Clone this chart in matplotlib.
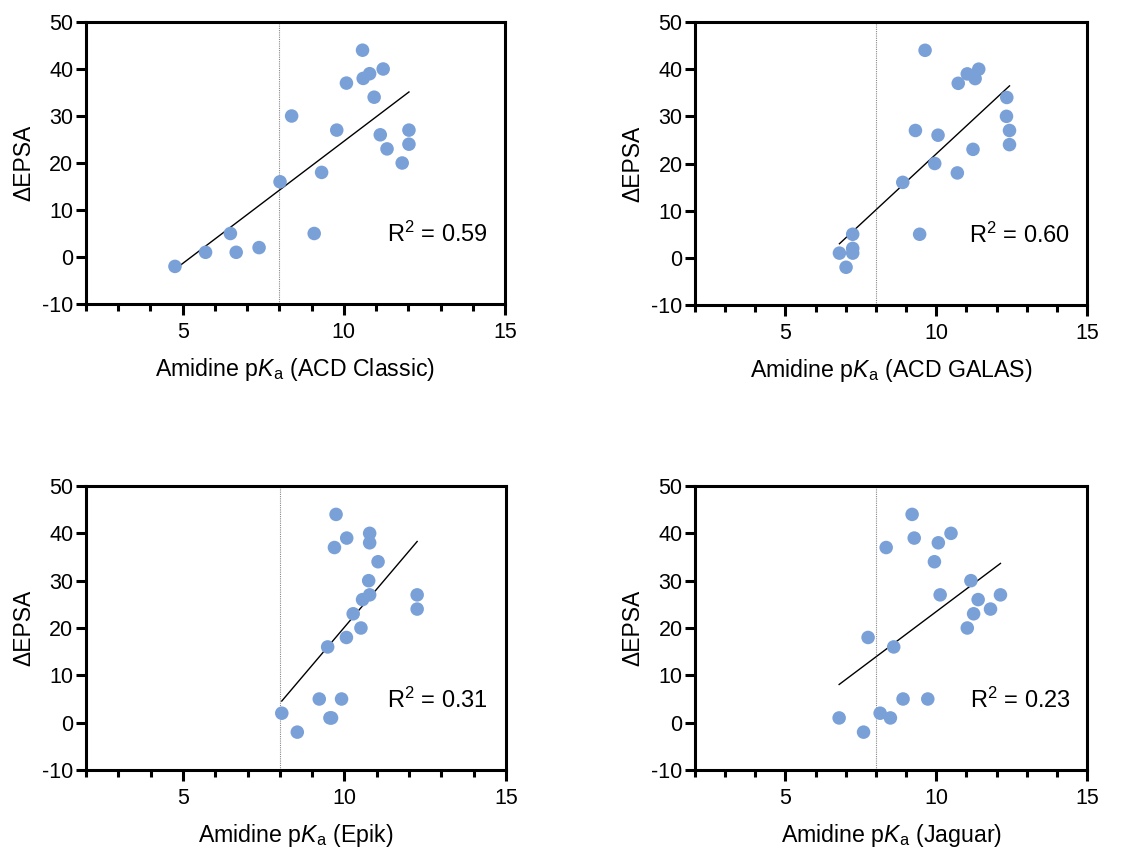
import matplotlib
matplotlib.use("Agg")
import matplotlib.pyplot as plt
import numpy as np
from matplotlib.ticker import MultipleLocator

plt.rcParams['font.family'] = ['Liberation Sans', 'DejaVu Sans']
plt.rcParams['mathtext.fontset'] = 'custom'
plt.rcParams['mathtext.rm'] = 'Liberation Sans'
plt.rcParams['mathtext.it'] = 'Liberation Sans:italic'
plt.rcParams['axes.unicode_minus'] = False

# ACD Classic
x_classic = [4.76, 5.71, 6.48, 6.66, 7.37, 8.02, 8.38, 9.08, 9.31, 9.78, 10.08,
             10.58, 10.60, 10.80, 10.94, 11.22, 11.13, 11.34, 11.81, 12.02, 12.02]
y_classic = [-2, 1, 5, 1, 2, 16, 30, 5, 18, 27, 37, 44, 38, 39, 34, 40, 26, 23, 20, 27, 24]

# ACD GALAS
x_galas = [6.79, 7.01, 7.23, 7.23, 7.23, 8.89, 9.31, 9.45, 9.63, 9.95, 10.06,
           10.70, 10.73, 11.03, 11.22, 11.29, 11.41, 12.34, 12.33, 12.43, 12.43]
y_galas = [1, -2, 5, 2, 1, 16, 27, 5, 44, 20, 26, 18, 37, 39, 23, 38, 40, 34, 30, 27, 24]

# Epik
x_epik = [8.06, 8.54, 9.22, 9.55, 9.60, 9.91, 9.48, 9.74, 9.69, 10.07, 10.06,
          10.27, 10.51, 10.56, 10.75, 10.78, 10.78, 10.78, 11.04, 12.25, 12.25]
y_epik = [2, -2, 5, 1, 1, 5, 16, 44, 37, 39, 18, 23, 20, 26, 30, 27, 40, 38, 34, 27, 24]

# Jaguar
x_jaguar = [6.78, 7.59, 7.74, 8.14, 8.34, 8.48, 8.59, 8.90, 9.20, 9.27, 9.72,
            9.94, 10.07, 10.13, 10.49, 11.03, 11.15, 11.24, 11.39, 11.80, 12.13]
y_jaguar = [1, -2, 18, 2, 37, 1, 16, 5, 44, 39, 5, 34, 38, 27, 40, 20, 30, 23, 26, 24, 27]

labels = ['ACD Classic', 'ACD GALAS', 'Epik', 'Jaguar']
r2_text = ['0.59', '0.60', '0.31', '0.23']
xs = [x_classic, x_galas, x_epik, x_jaguar]
ys = [y_classic, y_galas, y_epik, y_jaguar]

W, H = 1147, 850
fig = plt.figure(figsize=(W / 100, H / 100), dpi=100)

# axes boxes in pixels: left, top, right, bottom
boxes = [(86, 22, 505, 304), (695, 22, 1087, 305),
         (86, 486, 506, 770), (695, 486, 1087, 770)]

color = '#7aa0d8'

for i in range(4):
    l, t, r, b = boxes[i]
    ax = fig.add_axes([l / W, 1 - b / H, (r - l) / W, (b - t) / H])
    x = np.array(xs[i])
    y = np.array(ys[i])

    ax.axvline(8, color='#888888', lw=0.8, ls=(0, (1, 1)), zorder=1)
    ax.scatter(x, y, s=95, color=color, edgecolors='none', zorder=3)

    k, c = np.polyfit(x, y, 1)
    xl = np.array([x.min(), x.max()])
    ax.plot(xl, k * xl + c, color='black', lw=1.0, zorder=2)

    ax.set_xlim(2, 15)
    ax.set_ylim(-10, 50)
    ax.xaxis.set_major_locator(MultipleLocator(5))
    ax.xaxis.set_minor_locator(MultipleLocator(1))
    ax.yaxis.set_major_locator(MultipleLocator(10))
    for s in ax.spines.values():
        s.set_linewidth(2.2)
    ax.tick_params(axis='both', which='major', direction='out', width=2.2,
                   labelsize=15.5)
    ax.tick_params(axis='x', which='major', length=8, pad=5)
    ax.tick_params(axis='y', which='major', length=7, pad=2)
    ax.tick_params(axis='x', which='minor', length=5, width=2.2)

    ax.set_xlabel('Amidine p$\\mathit{K}_\\mathrm{a}$ (' + labels[i] + ')',
                  fontsize=16.7, labelpad=9)
    ax.set_ylabel('\u0394EPSA', fontsize=16.5, labelpad=5)
    ax.text(0.958, 0.247, 'R$^2$ = ' + r2_text[i], transform=ax.transAxes,
            ha='right', va='center', fontsize=17)

fig.savefig('out.png', dpi=100)
